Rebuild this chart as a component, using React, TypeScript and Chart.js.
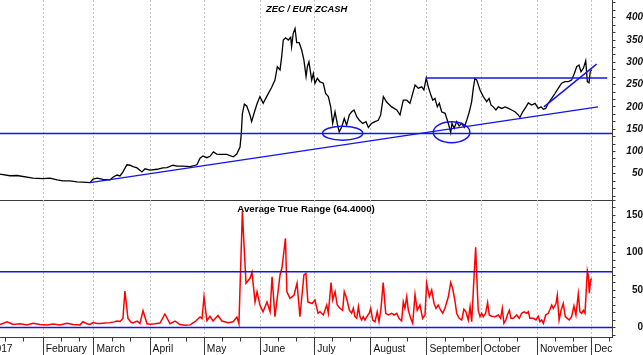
import React, { useEffect, useRef } from "react";
import { Chart, registerables } from "chart.js";

Chart.register(...registerables);

// x values: day of year 2017 (0 = 1 January)
const priceDays = [
  7.1, 12.6, 16.5, 25.3, 30.8, 34.7, 38.6, 41.9, 45.8, 49.6,
  52.9, 56.8, 58.5, 60.7, 64, 67.9, 69.5, 71.7, 73.4, 75,
  77.2, 78.9, 80.6, 82.8, 85.5, 87.2, 90, 93.8, 97.1, 99.3,
  102.7, 104.9, 108.2, 112.1, 115.9, 117.6, 119.2, 121.4, 123.1, 125,
  126.8, 128.6, 132.3, 136, 137.9, 139.7, 140.4, 141, 142.1, 143.4,
  145.2, 146.1, 148, 149.2, 150.7, 152.5, 154.4, 157.2, 159, 160.3,
  161.8, 162.7, 163.6, 164.9, 166.4, 167.7, 168.2, 169.1, 170.1, 171,
  172.4, 173.8, 175, 176.2, 176.9, 177.8, 179.3, 180.2, 181.1, 182.4,
  183.9, 185.7, 187, 188.5, 189.8, 190.9, 192.2, 193.4, 194.5, 195.9,
  197.3, 198.6, 200.1, 201.4, 202.7, 204.2, 205.6, 207.5, 209.3, 210.6,
  212.4, 214.3, 216.1, 217.4, 218.9, 220.7, 223.5, 226.3, 228.1, 229.9,
  231.8, 233.6, 236.4, 238.2, 240.1, 241.3, 242.6, 243.7, 245.1, 246.2,
  247.4, 248.7, 249.8, 251.1, 253, 254.2, 255.3, 256.1, 256.8, 258,
  259.4, 260.8, 262.2, 263.6, 265, 266.4, 267.7, 268.6, 269.5, 270.5,
  272.3, 274.1, 276, 277.3, 278.4, 279.6, 281.1, 282.4, 284.3, 286.1,
  288, 289.8, 291.6, 293.4, 294.4, 295.9, 297.7, 299, 300.8, 302.7,
  304.5, 306, 307.3, 308.6, 310, 311.9, 313.7, 315.5, 317.4, 319.2,
  321.1, 322.9, 324.4, 325.7, 327, 328.1, 329.4, 330.7, 331.6, 332.5,
  333.2, 334,
];
const priceValues = [
  49, 45.5, 46, 40, 39, 40, 36, 34, 34, 31.5,
  31, 30, 38, 40, 37.5, 36.5, 42, 47, 45, 54,
  70, 69, 66, 63, 54, 61, 58, 60, 63, 63.5,
  69, 67, 67, 66, 70, 85, 90, 86, 89, 99,
  94, 93.5, 93.5, 88, 94, 110, 140, 185, 206, 202,
  182, 167, 193, 208, 223, 208, 223, 244, 260, 290,
  283, 312, 350, 355, 350, 356, 335, 365, 376, 344,
  344, 327, 305, 268, 290, 301, 260, 275, 253, 264,
  256, 253, 230, 223, 200, 163, 189, 163, 144, 155,
  174, 159, 182, 189, 193, 178, 170, 163, 167, 154,
  163, 167, 170, 182, 223, 211, 200, 193, 182, 215,
  215, 208, 249, 242, 245, 238, 265, 245, 227, 215,
  219, 200, 208, 189, 185.5, 170.5, 155.5, 142, 163, 152,
  167, 157, 163, 154, 170.5, 189, 212, 242, 264, 260,
  238, 223, 212, 219, 204, 200, 193, 200, 196.5, 200,
  196.5, 193, 189, 182, 176.5, 189, 200, 209, 204, 208,
  196.5, 200, 194.5, 196.5, 208, 219, 230, 241.6, 253, 256.5,
  256.5, 260, 275, 290, 294, 279, 286.5, 303.6, 256.5, 254,
  279, 283,
];

const atrDays = [
  7.1, 11, 14.3, 18.1, 22, 25.3, 29.2, 33, 36.4, 40.2,
  44.1, 47.4, 51.3, 52.9, 55.1, 56.8, 58.5, 60.7, 62.3, 65.1,
  67.9, 70.1, 71.7, 73.4, 75, 76.1, 77.8, 79.5, 80.6, 82.8,
  84.4, 86.1, 88.3, 90, 92.7, 95.5, 98.2, 101, 103.8, 106.5,
  109.3, 112.1, 114.8, 117.6, 118.7, 119.8, 121.4, 123.1, 124.8, 127.5,
  129.7, 133.1, 135.8, 138, 139.1, 141, 141.9, 143, 145.2, 146.3,
  148, 149.1, 150.7, 152.4, 154.6, 156.3, 157.4, 159, 160.7, 161.8,
  162.9, 164.8, 165.6, 167.3, 169.5, 171.2, 172.8, 175, 176.1, 177.2,
  179.5, 181.1, 182.8, 183.9, 185.7, 187.6, 188.5, 190, 190.9, 192.2,
  193.4, 194.9, 196.4, 197.3, 198.6, 200.1, 201.4, 202.3, 203.2, 204.2,
  205.1, 206, 206.9, 207.8, 208.7, 209.7, 211.1, 211.9, 213, 214.3,
  215.5, 216.5, 217.6, 218.8, 220.2, 221.6, 223.5, 224.8, 226.3, 227.5,
  229, 229.9, 230.8, 231.8, 232.7, 234, 235.1, 236.4, 237.6, 239.1,
  240.6, 241.9, 242.8, 244.3, 245.6, 246.9, 248, 249.2, 250.6, 251.7,
  252.9, 254.8, 256.1, 257.2, 258.5, 259.4, 260.8, 262.2, 263.4, 264.5,
  265.8, 266.8, 267.7, 269, 269.9, 270.6, 271.3, 272.3, 273.2, 274.1,
  275.4, 276.5, 277.4, 278.7, 280.6, 282.4, 283.7, 284.6, 285.5, 286.6,
  287.4, 288.5, 289.4, 290.7, 292.6, 294, 295.3, 296.6, 298.1, 299,
  299.9, 301.8, 303.2, 304.5, 305.4, 306.4, 307.3, 308.6, 310, 311,
  311.9, 312.8, 314.3, 315, 316, 317.1, 318.3, 319.4, 320.5, 321.6,
  322.9, 324.2, 325.3, 326.6, 327.5, 328.5, 329.4, 330.3, 331.6, 332.1,
  332.7, 333.4, 334,
];
const atrValues = [
  4, 7.7, 4, 5, 3.5, 5.5, 4, 3.5, 4.5, 3.5,
  5.5, 4, 3.5, 7.7, 5, 4, 6.5, 5.5, 5.5, 6,
  6.5, 7.5, 8.7, 8, 12, 48.6, 12, 7, 6, 8.5,
  5.5, 22.4, 5, 4.5, 5, 6, 18, 5, 8.5, 4,
  3, 3.5, 7.7, 14, 12, 41, 9, 15, 8.7, 16,
  8.7, 6.5, 7.7, 14, 5, 155, 110, 59, 65.6, 73.6,
  34, 47.7, 30, 21, 34, 21, 67.7, 14.4, 47.7, 70,
  80, 119, 47.7, 39, 43, 59, 14.4, 70, 72, 34,
  32, 36.7, 19, 21, 16.7, 30, 19, 60, 36.7, 47.7,
  30, 25.6, 23, 47.7, 39, 23, 19, 25.6, 14.4, 12.2,
  27.8, 14.4, 10, 14.4, 10, 14.4, 19, 25.6, 10, 7.8,
  21, 7.8, 25.6, 60, 19, 16.7, 19, 16.7, 19, 12.2,
  8.7, 34, 25.6, 41, 23, 12.2, 5.6, 44, 23, 30,
  12.2, 16.7, 59, 41, 50, 32, 25.6, 30, 23, 19,
  25.6, 41, 60, 52, 35, 19, 12.2, 10, 24.3, 21,
  10, 27.8, 7.8, 67.7, 107, 63, 23, 14.4, 19, 14.4,
  19, 33, 16.7, 15, 14.4, 16.7, 12.2, 25.6, 5.6, 10,
  16.7, 23, 12.2, 12.2, 16.7, 12.2, 19, 21, 19, 21,
  12.2, 12.2, 10, 15, 7.8, 10, 5.6, 16.7, 19, 24.3,
  30, 25.6, 32, 43, 10, 23, 32, 14.4, 12.2, 10,
  14.4, 28.7, 16.7, 44.7, 21, 19, 23, 19, 75.7, 70,
  45.6, 63, 65.6,
];

const monthStartDays = [0, 31, 59, 90, 120, 151, 181, 212, 243, 273, 304, 334];
const monthLabels = [
  "2017", "February", "March", "April", "May", "June", "July",
  "August", "September", "October", "November", "December",
];
const minorTickOffsets = [10, 20];

const priceTickLabels = [50, 100, 150, 200, 250, 300, 350, 400];
const priceMinorStep = 50 / 3;
const atrTickLabels = [0, 50, 100, 150];
const atrMinorStep = 10;

// drawn studies (in data units)
const supportLevel = 140;
const resistanceLevel = 265;
const resistanceDays = [242.4, 342.6];
const trendDays = [56.8, 337.5];
const trendValues = [30, 200];
const steepDays = [307.6, 336.7];
const steepValues = [200, 296];
const atrUpperLevel = 74.4;
const atrLowerLevel = 0;
const ellipseDays = [196.4, 256.6];
const ellipseValues = [141, 143];
const ellipseHalfDays = [11.1, 10.1];
const ellipseHalfValues = [15.7, 23.5];

const X_MIN = 7.08;
const X_MAX = 345.5;
const P_MIN = -8.97;
const P_MAX = 439.8;
const A_MIN = -13.33;
const A_MAX = 170;

const BLUE = "#1414f0";
const AXIS = "#3a3a3a";
const SANS = "'Liberation Sans', Arial, sans-serif";

function seg(xs: number[], ys: number[], yAxisID: string) {
  return {
    type: "line",
    data: xs.map((x, i) => ({ x, y: ys[i] })),
    yAxisID,
    borderColor: BLUE,
    borderWidth: 1.5,
    pointRadius: 0,
    order: 0,
  };
}

const ellipsePlugin = {
  id: "ellipses",
  afterDatasetsDraw(chart: any) {
    const xs = chart.scales.x;
    const ys = chart.scales.yP;
    const ctx = chart.ctx;
    ctx.save();
    ctx.strokeStyle = BLUE;
    ctx.lineWidth = 1.5;
    ellipseDays.forEach((d, i) => {
      const cx = xs.getPixelForValue(d);
      const cy = ys.getPixelForValue(ellipseValues[i]);
      const rx = Math.abs(xs.getPixelForValue(d + ellipseHalfDays[i]) - cx);
      const ry = Math.abs(ys.getPixelForValue(ellipseValues[i] + ellipseHalfValues[i]) - cy);
      ctx.beginPath();
      ctx.ellipse(cx, cy, rx, ry, 0, 0, Math.PI * 2);
      ctx.stroke();
    });
    ctx.restore();
  },
};

function zeroPad(axis: any) {
  axis.paddingLeft = 0;
  axis.paddingRight = 0;
  axis.paddingTop = 0;
  axis.paddingBottom = 0;
}

export default function App() {
  const ref = useRef<HTMLCanvasElement>(null);

  useEffect(() => {
    const minorDays: number[] = [];
    monthStartDays.forEach((m) => minorTickOffsets.forEach((o) => {
      if (m + o > X_MIN && m + o < X_MAX) minorDays.push(m + o);
    }));
    const priceTicks: number[] = [];
    for (let k = 0; k * priceMinorStep <= P_MAX - 5; k++) priceTicks.push(k * priceMinorStep);
    const atrTicks: number[] = [];
    for (let v = -10; v <= A_MAX; v += atrMinorStep) atrTicks.push(v);

    const config: any = {
      type: "line",
      data: {
        datasets: [
          seg([X_MIN, X_MAX], [supportLevel, supportLevel], "yP"),
          seg(resistanceDays, [resistanceLevel, resistanceLevel], "yP"),
          seg(trendDays, trendValues, "yP"),
          seg(steepDays, steepValues, "yP"),
          seg([X_MIN, X_MAX], [atrUpperLevel, atrUpperLevel], "yA"),
          seg([X_MIN, X_MAX], [atrLowerLevel, atrLowerLevel], "yA"),
          {
            type: "line",
            data: priceDays.map((x, i) => ({ x, y: priceValues[i] })),
            yAxisID: "yP",
            borderColor: "#000",
            borderWidth: 1.3,
            pointRadius: 0,
            order: 1,
          },
          {
            type: "line",
            data: atrDays.map((x, i) => ({ x, y: atrValues[i] })),
            yAxisID: "yA",
            borderColor: "#ff0000",
            borderWidth: 1.5,
            pointRadius: 0,
            order: 1,
          },
        ],
      },
      options: {
        animation: false,
        responsive: false,
        maintainAspectRatio: false,
        layout: { padding: 0 },
        elements: { line: { tension: 0 } },
        plugins: { legend: { display: false }, tooltip: { enabled: false }, title: { display: false } },
        scales: {
          yP: {
            type: "linear",
            position: "right",
            stack: "main",
            stackWeight: 200,
            min: P_MIN,
            max: P_MAX,
            afterBuildTicks: (axis: any) => { axis.ticks = priceTicks.map((value) => ({ value })); },
            afterFit: (axis: any) => { axis.width = 30.5; zeroPad(axis); },
            ticks: {
              autoSkip: false,
              padding: 8.3,
              crossAlign: "far",
              color: "#111",
              font: { family: SANS, size: 10, weight: "bold", style: "italic" },
              callback: (v: number) => {
                const r = Math.round(v);
                return priceTickLabels.includes(r) && Math.abs(v - r) < 0.01 ? String(r) : "";
              },
            },
            grid: { drawOnChartArea: false, drawTicks: true, tickLength: 3, tickColor: AXIS },
            border: { display: true, color: AXIS, width: 1 },
          },
          yA: {
            type: "linear",
            position: "right",
            stack: "main",
            stackWeight: 137.5,
            min: A_MIN,
            max: A_MAX,
            afterBuildTicks: (axis: any) => { axis.ticks = atrTicks.map((value) => ({ value })); },
            afterFit: (axis: any) => { axis.width = 30.5; zeroPad(axis); },
            ticks: {
              autoSkip: false,
              padding: 8.3,
              crossAlign: "far",
              color: "#111",
              font: { family: SANS, size: 10, weight: "bold" },
              callback: (v: number) => (atrTickLabels.includes(v) ? String(v) : ""),
            },
            grid: {
              drawOnChartArea: true,
              drawTicks: true,
              tickLength: 3,
              tickColor: AXIS,
              color: (c: any) => (c.tick && c.tick.value === A_MAX ? AXIS : "rgba(0,0,0,0)"),
            },
            border: { display: true, color: AXIS, width: 1 },
          },
          x: {
            type: "linear",
            position: "bottom",
            min: X_MIN,
            max: X_MAX,
            afterBuildTicks: (axis: any) => { axis.ticks = minorDays.map((value) => ({ value })); },
            afterFit: (axis: any) => { axis.height = 0; zeroPad(axis); },
            ticks: { display: false, autoSkip: false },
            grid: { drawOnChartArea: false, drawTicks: true, tickLength: 4, tickColor: AXIS },
            border: { display: true, color: AXIS, width: 1 },
          },
          xM: {
            type: "linear",
            position: "bottom",
            min: X_MIN,
            max: X_MAX,
            afterBuildTicks: (axis: any) => { axis.ticks = monthStartDays.map((value) => ({ value })); },
            afterFit: (axis: any) => {
              axis.height = 17.5;
              zeroPad(axis);
              axis._computeLabelArea = function () {
                return { top: this.top, left: 0, bottom: this.bottom, right: this.right };
              };
            },
            ticks: {
              autoSkip: false,
              maxRotation: 0,
              minRotation: 0,
              align: "start",
              labelOffset: 2.5,
              padding: -12.4,
              color: "#111",
              font: { family: SANS, size: 10.3 },
              callback: (_v: number, i: number) => monthLabels[i],
            },
            grid: {
              drawOnChartArea: true,
              drawTicks: true,
              tickLength: 17.5,
              tickColor: AXIS,
              tickBorderDash: [],
              color: "#c4c4c4",
              lineWidth: 1,
              borderDash: [2, 2],
            },
            border: { display: false, dash: [2, 2] },
          },
        },
      },
      plugins: [ellipsePlugin],
    };

    const chart = new Chart(ref.current as HTMLCanvasElement, config);
    return () => chart.destroy();
  }, []);

  return (
    <div style={{ position: "fixed", left: 0, top: 0, width: 643, height: 355, background: "#fff", overflow: "hidden" }}>
      <canvas ref={ref} width={643} height={355} style={{ position: "absolute", left: 0, top: 0, width: 643, height: 355 }} />
      <div
        style={{
          position: "absolute", left: 266, top: 4.3, whiteSpace: "nowrap", color: "#000",
          font: `italic bold 9.4px ${SANS}`, lineHeight: "9.4px",
        }}
      >
        ZEC / EUR ZCASH
      </div>
      <div
        style={{
          position: "absolute", left: 237.3, top: 204.1, whiteSpace: "nowrap", color: "#000",
          font: `bold 9.7px ${SANS}`, lineHeight: "9.7px",
        }}
      >
        Average True Range (64.4000)
      </div>
    </div>
  );
}
